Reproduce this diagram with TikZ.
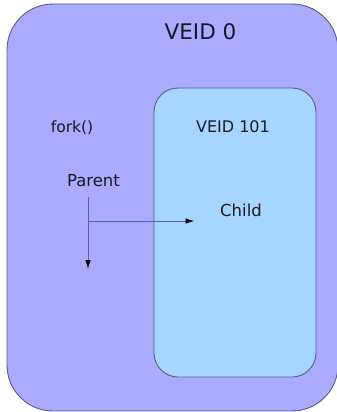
\documentclass[tikz,border=0pt]{standalone}
\usepackage{fontspec}
\setmainfont{DejaVu Sans}
\usetikzlibrary{arrows.meta}
\definecolor{hostfill}{RGB}{170,170,255}
\definecolor{ctfill}{RGB}{166,214,255}
\definecolor{edge}{RGB}{90,90,130}
\definecolor{flow}{RGB}{95,95,150}
\definecolor{ink}{RGB}{25,25,35}
\tikzset{
  panel/.style={draw=edge, line width=0.9pt},
  label/.style={inner sep=0pt, text=ink, anchor=center},
  flowline/.style={draw=flow, line width=0.9pt,
    -{Latex[length=9pt,width=5.5pt,color=black]}},
}
\begin{document}
\begin{tikzpicture}[x=1pt,y=-1pt]
  \useasboundingbox (0,0) rectangle (337,412);
  % host environment
  \draw[panel, fill=hostfill, rounded corners=46pt] (7,4) rectangle (338,411);
  % container
  \draw[panel, fill=ctfill, rounded corners=24pt] (154,88) rectangle (316,377);

  \node[label, font=\fontsize{21.5}{24}\selectfont] (veid0) at (200.5,32) {VEID 0};
  \node[label, font=\fontsize{16}{18}\selectfont] (veid101) at (233,127) {VEID 101};
  \node[label, font=\fontsize{15.5}{17}\selectfont] (fork) at (72,128) {fork()};
  \node[label, font=\fontsize{16.5}{18}\selectfont] (parent) at (93.5,181) {Parent};
  \node[label, font=\fontsize{16.5}{18}\selectfont] (child) at (241,210) {Child};

  \coordinate (ptop) at (88,197);
  \coordinate (split) at (88,221);
  \coordinate (pend) at (88,269);
  \coordinate (cend) at (194.5,221);

  \draw[flowline] (ptop) -- (pend);
  \draw[flowline] (split) -- (cend);
\end{tikzpicture}
\end{document}
